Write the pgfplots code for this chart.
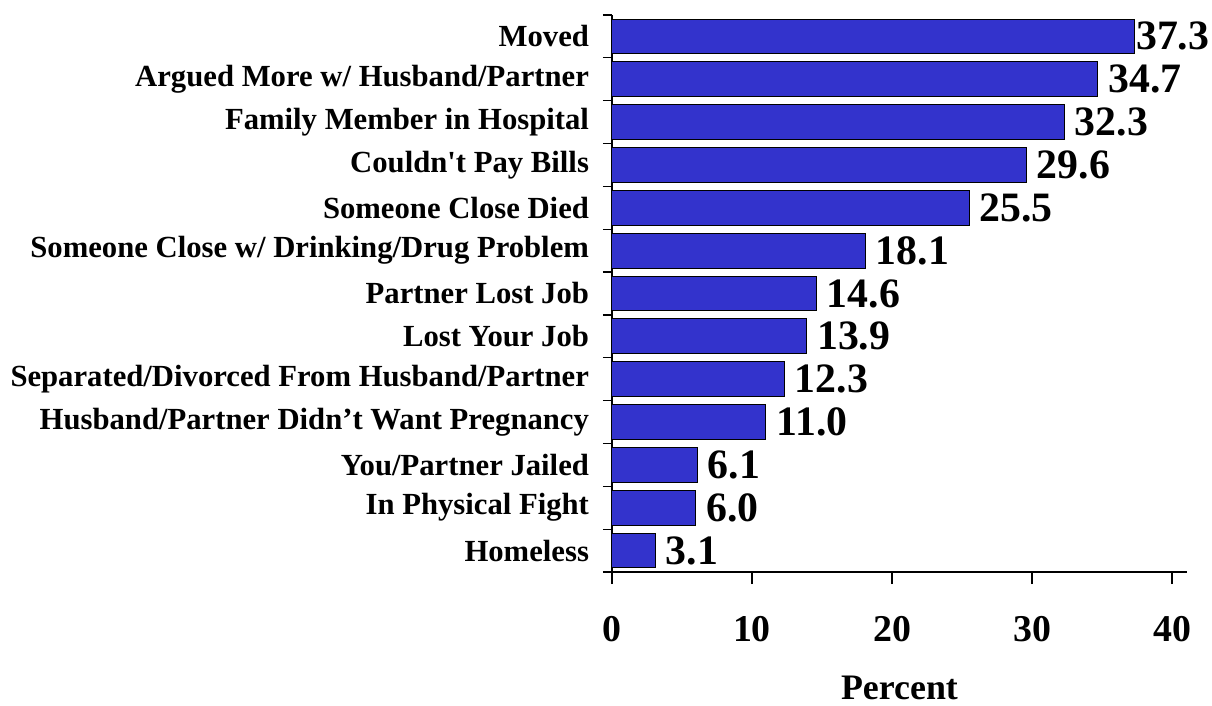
\documentclass[border=0pt]{standalone}
\usepackage{fontspec}
\setmainfont{Liberation Serif}
\usepackage{pgfplots}
\pgfplotsset{compat=1.18}
\definecolor{barblue}{RGB}{51,51,204}
\begin{document}
\begin{tikzpicture}[font=\bfseries]
\path[use as bounding box] (-306bp,-67bp) rectangle (300bp,286bp);
\begin{axis}[
  at={(0,0)}, anchor=south west,
  scale only axis, width=287.5bp, height=278.5bp,
  xbar, bar width=0.81, bar shift=0pt,
  xmin=0, xmax=41.07, ymin=-0.5, ymax=12.5,
  axis lines*=left,
  axis line style={line width=0.7bp},
  /pgf/number format/assume math mode=true,
  tick align=outside,
  major tick length=6bp, minor tick length=4.5bp,
  tick style={line width=0.6bp, black},
  xtick={0,10,20,30,40},
  ytick={0,...,12},
  major y tick style={draw=none},
  minor ytick={-0.5,0.5,...,12.5},
  yticklabels={Homeless, In Physical Fight, You/Partner Jailed, Husband/Partner Didn’t Want Pregnancy, Separated/Divorced From Husband/Partner, Lost Your Job, Partner Lost Job, Someone Close w/ Drinking/Drug Problem, Someone Close Died, Couldn\textquotesingle t Pay Bills, Family Member in Hospital, Argued More w/ Husband/Partner, Moved},
  yticklabel style={font=\bfseries\fontsize{15.4}{15.4}\selectfont, anchor=east, xshift=-2bp},
  xticklabel style={font=\bfseries\fontsize{19}{19}\selectfont, yshift=-12.5bp},
  xlabel={Percent},
  xlabel style={font=\bfseries\fontsize{18}{18}\selectfont, yshift=-10.5bp},
  nodes near coords={\pgfmathprintnumber[fixed,fixed zerofill,precision=1]{\pgfplotspointmeta}},
  nodes near coords style={font=\bfseries\fontsize{21}{21}\selectfont, anchor=west, inner sep=0pt, xshift=5bp},
  clip=false,
]
\addplot[fill=barblue, draw=black, line width=0.5bp] coordinates {
(3.1,0) (6.0,1) (6.1,2) (11.0,3) (12.3,4) (13.9,5) (14.6,6) (18.1,7) (25.5,8) (29.6,9) (32.3,10) (34.7,11)};
\addplot[fill=barblue, draw=black, line width=0.5bp,
  nodes near coords style={xshift=-4.3bp}] coordinates {(37.3,12)};
\end{axis}
\end{tikzpicture}
\end{document}
